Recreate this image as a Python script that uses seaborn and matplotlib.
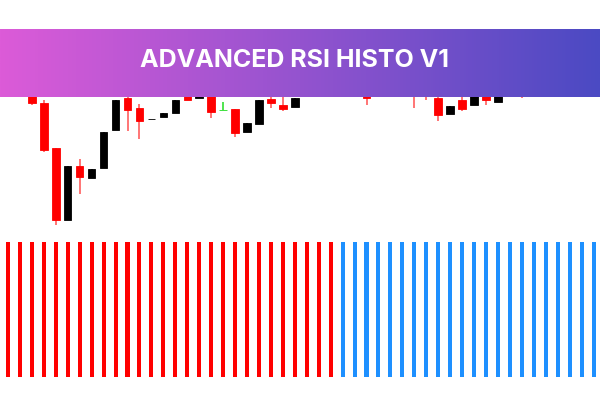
import numpy as np
import pandas as pd
import matplotlib
matplotlib.use("Agg")
import matplotlib.pyplot as plt
from matplotlib.colors import LinearSegmentedColormap
import seaborn as sns

# candle data (price units), one row per bar
opens = [1.230, 1.225, 1.215, 1.197, 1.1517, 1.080, 1.134, 1.1223, 1.1323, 1.1703,
         1.202, 1.192, 1.1807, 1.1833, 1.1867, 1.204, 1.2015, 1.215, 1.1895, 1.1907,
         1.1683, 1.1763, 1.2012, 1.1948, 1.1928, 1.210, 1.222, 1.233, 1.228, 1.243,
         1.236, 1.206, 1.220, 1.228, 1.220, 1.214, 1.2017, 1.186, 1.200, 1.195,
         1.212, 1.198, 1.210, 1.222, 1.210, 1.224, 1.232, 1.228, 1.240, 1.236]
highs = [1.236, 1.228, 1.220, 1.200, 1.1517, 1.134, 1.141, 1.131, 1.1683, 1.200,
         1.210, 1.1965, 1.1807, 1.187, 1.200, 1.212, 1.218, 1.220, 1.1985, 1.1907,
         1.177, 1.1995, 1.206, 1.210, 1.202, 1.226, 1.236, 1.240, 1.246, 1.250,
         1.240, 1.224, 1.232, 1.234, 1.226, 1.218, 1.210, 1.194, 1.2027, 1.215,
         1.214, 1.212, 1.222, 1.226, 1.228, 1.236, 1.240, 1.244, 1.248, 1.250]
lows = [1.222, 1.214, 1.1953, 1.1483, 1.075, 1.080, 1.106, 1.1223, 1.1323, 1.1703,
        1.1693, 1.1607, 1.1807, 1.1833, 1.1867, 1.2005, 1.2015, 1.1817, 1.1895, 1.1633,
        1.1683, 1.1763, 1.1925, 1.1893, 1.1928, 1.206, 1.219, 1.224, 1.226, 1.232,
        1.1953, 1.205, 1.212, 1.216, 1.1923, 1.2005, 1.179, 1.186, 1.1893, 1.195,
        1.195, 1.198, 1.205, 1.2015, 1.206, 1.220, 1.225, 1.226, 1.232, 1.233]
closes = [1.225, 1.216, 1.1973, 1.150, 1.080, 1.134, 1.1227, 1.131, 1.1683, 1.200,
          1.190, 1.1787, 1.1807, 1.187, 1.200, 1.2005, 1.215, 1.1883, 1.1895, 1.1667,
          1.177, 1.1995, 1.1967, 1.191, 1.202, 1.222, 1.233, 1.228, 1.243, 1.236,
          1.2025, 1.220, 1.228, 1.220, 1.208, 1.206, 1.1847, 1.194, 1.191, 1.212,
          1.1995, 1.210, 1.218, 1.210, 1.224, 1.232, 1.228, 1.240, 1.236, 1.246]

# histogram: down = bearish (red), up = bullish (blue); all bars full height
histo_signal = ["down"] * 28 + ["up"] * 22
histo_value = [1] * 50

sns.set_theme(style="white")

df = pd.DataFrame({"o": opens, "h": highs, "l": lows, "c": closes})
df["idx"] = np.arange(len(df))
x0, x1 = -0.67, 49.54

fig = plt.figure(figsize=(6, 4), dpi=100)
fig.patch.set_facecolor("white")

# candles
ax_c = fig.add_axes([0, 168 / 400, 1, 232 / 400])
col = []
for i, r in df.iterrows():
    if i == 18:
        col.append("#1fdc1f")
    elif r.c < r.o:
        col.append("#ff0000")
    else:
        col.append("black")
ax_c.vlines(df.idx, df.l, df.h, colors=[c if c != "#ff0000" else "#ff5050" for c in col], lw=1.1, zorder=1)
ax_c.bar(df.idx, (df.c - df.o).abs(), bottom=np.minimum(df.o, df.c), width=0.62,
         color=col, edgecolor=col, linewidth=0.6, zorder=2)
ax_c.set_xlim(x0, x1)
ax_c.set_ylim(1.068, 1.300)
ax_c.axis("off")

# histogram
ax_h = fig.add_axes([0, 23 / 400, 1, 135 / 400])
hd = pd.DataFrame({"idx": np.arange(50), "val": histo_value, "sig": histo_signal})
sns.barplot(data=hd, x="idx", y="val", hue="sig", native_scale=True, dodge=False,
            palette={"down": "#ff0000", "up": "#1e90ff"}, width=0.34, legend=False,
            saturation=1, linewidth=0, ax=ax_h)
ax_h.set_xlim(x0, x1)
ax_h.set_ylim(0, 1)
ax_h.axis("off")

# title banner
ax_b = fig.add_axes([0, 303 / 400, 1, 68 / 400])
cmap = LinearSegmentedColormap.from_list("ban", ["#dc5bd8", "#9453cf", "#4b4ac3"])
ax_b.imshow(np.linspace(0, 1, 256)[None, :], cmap=cmap, aspect="auto", extent=[0, 1, 0, 1])
ax_b.set_xlim(0, 1)
ax_b.set_ylim(0, 1)
ax_b.axis("off")
ax_b.text(0.49, 0.54, "ADVANCED RSI HISTO V1", color="white", fontsize=18,
          fontweight="bold", family="Inter", ha="center", va="center")

fig.savefig("out.png", dpi=100)
